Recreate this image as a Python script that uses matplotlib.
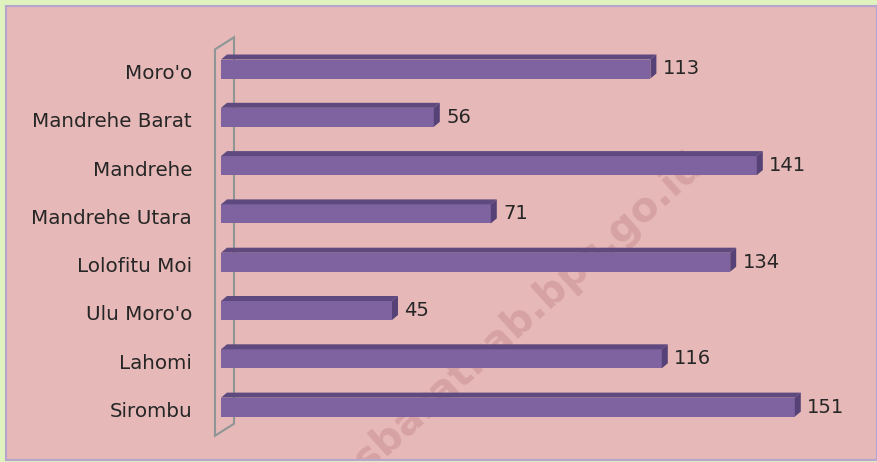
import matplotlib.pyplot as plt
from matplotlib.patches import Polygon

# jumlah per kecamatan
kecamatan = ["Moro'o", "Mandrehe Barat", "Mandrehe", "Mandrehe Utara",
             "Lolofitu Moi", "Ulu Moro'o", "Lahomi", "Sirombu"]
jumlah = [113, 56, 141, 71, 134, 45, 116, 151]

W, H = 878, 462
px_unit = 3.8      # pixels per value unit
x0_px = 221        # pixel of value 0
y0_px = 69         # pixel of first row
row_px = 48.3      # pixels between rows

c_front = "#7F63A0"
c_top = "#5F4A80"
c_side = "#564276"
c_text = "#262626"

fig = plt.figure(figsize=(W / 100, H / 100), dpi=100, facecolor="#E0F2BE")
ax = fig.add_axes([6 / W, 2 / H, 871 / W, 454 / H])
ax.set_facecolor("#E6B8B7")
ax.set_xlim((6 - x0_px) / px_unit, (877 - x0_px) / px_unit)
ax.set_ylim((460 - y0_px) / row_px, (6 - y0_px) / row_px)
ax.set_xticks([])
ax.set_yticks([])
for s in ax.spines.values():
    s.set_color("#B5A6D0")
    s.set_linewidth(1.5)

# depth of the fake 3d
bdx = 6 / px_unit
bdy = 5 / row_px
wdx = 19 / px_unit
wdy = 12 / row_px
h = 19 / row_px
shift = 4.5 / row_px
n = len(kecamatan)

# watermark
ax.text(705 / W, 1 - 167 / H, "niasbaratkab.bps.go.id", transform=fig.transFigure,
        rotation=42, rotation_mode="anchor", ha="right", va="baseline",
        fontsize=29, fontweight="bold", color="#D6A2A4", zorder=0.5, clip_on=True)

# wall
wl = -6 / px_unit
wt = -0.5 + shift
wb = n - 0.5 + shift
wall = Polygon([(wl, wb), (wl, wt), (wl + wdx, wt - wdy), (wl + wdx, wb - wdy)],
               closed=True, fill=False, edgecolor="#8E9696", lw=1.5, zorder=1)
ax.add_patch(wall)

ax.barh(range(n), jumlah, height=h, color=c_front, zorder=3)
for i, v in enumerate(jumlah):
    top = i - h / 2
    bot = i + h / 2
    ax.add_patch(Polygon([(0, top), (v, top), (v + bdx, top - bdy), (bdx, top - bdy)],
                         closed=True, color=c_top, lw=0, zorder=3))
    ax.add_patch(Polygon([(v, top), (v + bdx, top - bdy), (v + bdx, bot - bdy), (v, bot)],
                         closed=True, color=c_side, lw=0, zorder=3))
    ax.annotate(str(v), (v + bdx, i), xytext=(4.5, 0), textcoords="offset points",
                ha="left", va="center", fontsize=14, color=c_text)
    ax.text((192 - x0_px) / px_unit, i + shift, kecamatan[i], ha="right", va="center",
            fontsize=14.3, color=c_text)

fig.savefig("out.png", dpi=100, facecolor=fig.get_facecolor())
